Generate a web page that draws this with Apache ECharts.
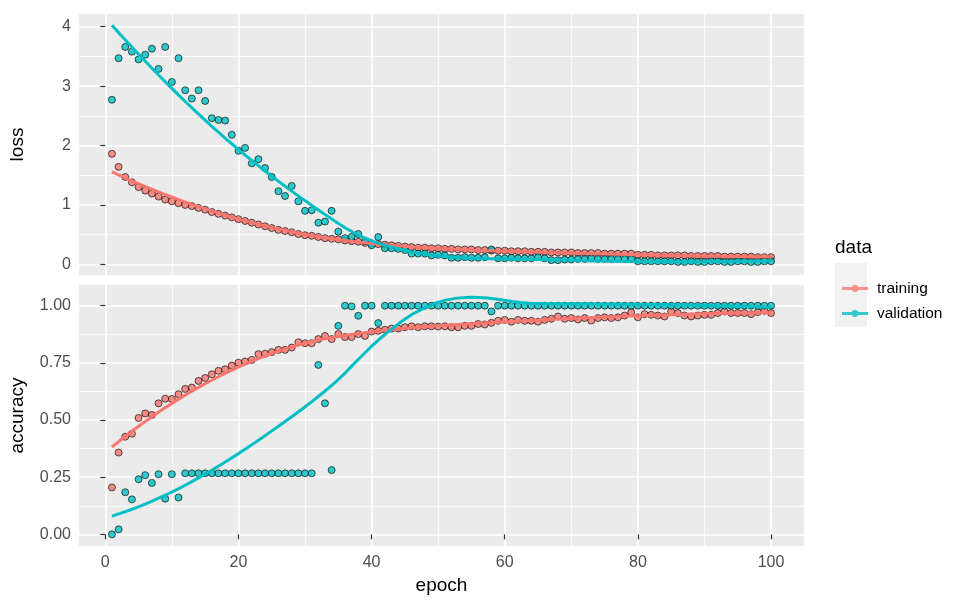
<!DOCTYPE html>
<html>
<head>
<meta charset="utf-8">
<script src="https://cdn.jsdelivr.net/npm/echarts@6/dist/echarts.min.js"></script>
<style>
  html, body { margin: 0; padding: 0; background: #fff; }
  #chart { width: 957px; height: 611px; }
</style>
</head>
<body>
<div id="chart"></div>
<script>
// epochs 1..100
const epochs = [
  1, 2, 3, 4, 5, 6, 7, 8, 9, 10, 11, 12, 13, 14, 15, 16, 17, 18, 19, 20,
  21, 22, 23, 24, 25, 26, 27, 28, 29, 30, 31, 32, 33, 34, 35, 36, 37, 38, 39, 40,
  41, 42, 43, 44, 45, 46, 47, 48, 49, 50, 51, 52, 53, 54, 55, 56, 57, 58, 59, 60,
  61, 62, 63, 64, 65, 66, 67, 68, 69, 70, 71, 72, 73, 74, 75, 76, 77, 78, 79, 80,
  81, 82, 83, 84, 85, 86, 87, 88, 89, 90, 91, 92, 93, 94, 95, 96, 97, 98, 99, 100
]

const lossTraining = [
  1.86, 1.64, 1.47, 1.38, 1.30, 1.24, 1.19, 1.14, 1.09, 1.06,
  1.03, 1.00, 0.98, 0.95, 0.92, 0.88, 0.85, 0.82, 0.79, 0.76,
  0.73, 0.70, 0.67, 0.64, 0.61, 0.58, 0.56, 0.54, 0.51, 0.49,
  0.48, 0.46, 0.44, 0.43, 0.42, 0.40, 0.39, 0.38, 0.36, 0.35,
  0.34, 0.33, 0.32, 0.31, 0.30, 0.29, 0.28, 0.28, 0.27, 0.27,
  0.26, 0.26, 0.25, 0.25, 0.25, 0.24, 0.24, 0.23, 0.23, 0.23,
  0.22, 0.22, 0.22, 0.21, 0.21, 0.21, 0.20, 0.20, 0.20, 0.20,
  0.19, 0.19, 0.19, 0.19, 0.18, 0.18, 0.18, 0.18, 0.18, 0.16,
  0.16, 0.16, 0.15, 0.15, 0.15, 0.15, 0.15, 0.14, 0.14, 0.14,
  0.14, 0.14, 0.13, 0.13, 0.13, 0.13, 0.13, 0.12, 0.12, 0.12
]
const lossValidation = [
  2.77, 3.47, 3.66, 3.58, 3.45, 3.53, 3.63, 3.29, 3.66, 3.07,
  3.47, 2.93, 2.79, 2.93, 2.75, 2.46, 2.43, 2.42, 2.18, 1.91,
  1.96, 1.70, 1.77, 1.62, 1.47, 1.23, 1.15, 1.32, 1.06, 0.90,
  0.91, 0.70, 0.72, 0.90, 0.55, 0.44, 0.46, 0.51, 0.39, 0.32,
  0.46, 0.27, 0.27, 0.26, 0.24, 0.18, 0.18, 0.18, 0.15, 0.16,
  0.15, 0.11, 0.11, 0.12, 0.11, 0.11, 0.12, 0.25, 0.10, 0.10,
  0.11, 0.10, 0.10, 0.10, 0.12, 0.10, 0.07, 0.07, 0.08, 0.08,
  0.09, 0.09, 0.10, 0.09, 0.09, 0.09, 0.09, 0.09, 0.09, 0.05,
  0.05, 0.05, 0.05, 0.05, 0.05, 0.04, 0.04, 0.05, 0.04, 0.04,
  0.05, 0.05, 0.04, 0.04, 0.05, 0.05, 0.04, 0.04, 0.05, 0.05
]
const accTraining = [
  0.205, 0.358, 0.427, 0.440, 0.509, 0.529, 0.522, 0.573, 0.593, 0.592,
  0.613, 0.636, 0.642, 0.671, 0.684, 0.700, 0.715, 0.722, 0.738, 0.751,
  0.756, 0.763, 0.788, 0.790, 0.797, 0.807, 0.807, 0.817, 0.840, 0.836,
  0.836, 0.854, 0.868, 0.854, 0.876, 0.863, 0.863, 0.876, 0.868, 0.887,
  0.890, 0.895, 0.900, 0.900, 0.906, 0.910, 0.906, 0.910, 0.910, 0.909,
  0.910, 0.906, 0.906, 0.912, 0.912, 0.920, 0.918, 0.925, 0.934, 0.938,
  0.930, 0.938, 0.934, 0.934, 0.930, 0.938, 0.943, 0.953, 0.943, 0.946,
  0.940, 0.946, 0.935, 0.946, 0.949, 0.946, 0.949, 0.957, 0.972, 0.949,
  0.963, 0.960, 0.957, 0.953, 0.975, 0.968, 0.957, 0.953, 0.957, 0.960,
  0.960, 0.968, 0.975, 0.968, 0.968, 0.968, 0.963, 0.972, 0.978, 0.968
]
const accValidation = [
  0.000, 0.022, 0.184, 0.153, 0.241, 0.259, 0.225, 0.263, 0.156, 0.263,
  0.161, 0.267, 0.267, 0.267, 0.267, 0.267, 0.267, 0.267, 0.267, 0.267,
  0.267, 0.267, 0.267, 0.267, 0.267, 0.267, 0.267, 0.267, 0.267, 0.267,
  0.267, 0.741, 0.573, 0.281, 0.912, 1.000, 0.997, 0.956, 1.000, 1.000,
  0.924, 1.000, 1.000, 1.000, 1.000, 1.000, 1.000, 1.000, 1.000, 1.000,
  1.000, 1.000, 1.000, 1.000, 1.000, 1.000, 1.000, 0.975, 1.000, 1.000,
  1.000, 1.000, 1.000, 1.000, 1.000, 1.000, 1.000, 1.000, 1.000, 1.000,
  1.000, 1.000, 1.000, 1.000, 1.000, 1.000, 1.000, 1.000, 1.000, 1.000,
  1.000, 1.000, 1.000, 1.000, 1.000, 1.000, 1.000, 1.000, 1.000, 1.000,
  1.000, 1.000, 1.000, 1.000, 1.000, 1.000, 1.000, 1.000, 1.000, 1.000
]

const xTicks = [0, 20, 40, 60, 80, 100]
const xMinor = [10, 30, 50, 70, 90]
const lossTicks = [0, 1, 2, 3, 4]
const lossMinor = [0.5, 1.5, 2.5, 3.5]
const accTicks = [0, 0.25, 0.5, 0.75, 1]
const accMinor = [0.125, 0.375, 0.625, 0.875]

const colTrain = '#F8766D'
const colVal = '#00BFC4'
const font = 'Liberation Sans, Arial, sans-serif'

// loess like ggplot geom_smooth (span 0.75, degree 2, tricube weights)
function loess(xs, ys, span, nOut) {
  const n = xs.length
  const q = Math.floor(n * span)
  const lo = Math.min(...xs), hi = Math.max(...xs)
  const out = []
  for (let k = 0; k < nOut; k++) {
    const x0 = lo + (hi - lo) * k / (nOut - 1)
    const d = xs.map((x) => Math.abs(x - x0))
    const h = d.slice().sort((a, b) => a - b)[q - 1] * 1.0000001
    const s = [0, 0, 0, 0, 0]
    const t = [0, 0, 0]
    for (let i = 0; i < n; i++) {
      const u = d[i] / h
      if (u >= 1) continue
      const w = Math.pow(1 - u * u * u, 3)
      const dx = xs[i] - x0
      let p = w
      for (let j = 0; j < 5; j++) { s[j] += p; p *= dx }
      t[0] += w * ys[i]; t[1] += w * dx * ys[i]; t[2] += w * dx * dx * ys[i]
    }
    const det3 = (m) =>
      m[0][0] * (m[1][1] * m[2][2] - m[1][2] * m[2][1]) -
      m[0][1] * (m[1][0] * m[2][2] - m[1][2] * m[2][0]) +
      m[0][2] * (m[1][0] * m[2][1] - m[1][1] * m[2][0])
    const A = [[s[0], s[1], s[2]], [s[1], s[2], s[3]], [s[2], s[3], s[4]]]
    const A0 = [[t[0], s[1], s[2]], [t[1], s[2], s[3]], [t[2], s[3], s[4]]]
    out.push([x0, det3(A0) / det3(A)])
  }
  return out
}

const pairs = (ys) => epochs.map((e, i) => [e, ys[i]])

const myChart = echarts.init(document.getElementById('chart'))

const gridLine = (w) => ({ show: true, lineStyle: { color: '#ffffff', width: w } })
const tickLabel = { color: '#4D4D4D', fontSize: 16, fontFamily: font }

function xAxisFor(gridIndex, major, withLabels) {
  return {
    type: 'value', gridIndex: gridIndex, min: -3.95, max: 104.95,
    axisLine: { show: false },
    axisTick: { show: withLabels, customValues: major ? xTicks : xMinor, length: 5, lineStyle: { color: '#333333', width: 1.2 } },
    axisLabel: { show: withLabels, customValues: major ? xTicks : xMinor, margin: 9, ...tickLabel },
    splitLine: gridLine(major ? 1.6 : 0.8),
    name: withLabels ? 'epoch' : '',
    nameLocation: 'middle', nameGap: 30,
    nameTextStyle: { color: '#000', fontSize: 19, fontFamily: font }
  }
}

function yAxisFor(gridIndex, lo, hi, ticks, minor, major, title, fmt) {
  const vals = major ? ticks : minor
  return {
    type: 'value', gridIndex: gridIndex, min: lo, max: hi,
    axisLine: { show: false },
    axisTick: { show: major, customValues: vals, length: 5, lineStyle: { color: '#333333', width: 1.2 } },
    axisLabel: { show: major, customValues: vals, margin: 8, formatter: fmt, ...tickLabel },
    splitLine: gridLine(major ? 1.6 : 0.8),
    name: major ? title : '',
    nameLocation: 'middle', nameGap: 52,
    nameTextStyle: { color: '#000', fontSize: 19, fontFamily: font }
  }
}

const pointStyle = (c) => ({ color: c, borderColor: '#000', borderWidth: 0.8 })

function points(name, ys, c, g) {
  return {
    name: name, type: 'scatter', xAxisIndex: g * 2, yAxisIndex: g * 2,
    data: pairs(ys), symbolSize: 7, itemStyle: pointStyle(c), z: 2
  }
}
function smooth(name, ys, c, g) {
  return {
    name: name, type: 'line', xAxisIndex: g * 2, yAxisIndex: g * 2,
    data: loess(epochs, ys, 0.75, 80), showSymbol: false, smooth: false,
    lineStyle: { color: c, width: 3 }, itemStyle: { color: c }, z: 3
  }
}

// key: line with a dot, drawn in one direction so the dot stays filled
const keyIcon = 'path://M0,1.8h26v2.8h-26z M9.6,3.2a3.4,3.4 0 1,1 6.8,0a3.4,3.4 0 1,1 -6.8,0z'

myChart.setOption({
  backgroundColor: '#ffffff',
  animation: false,
  grid: [
    { left: 75, top: 14, width: 729, height: 261, show: true, backgroundColor: '#EBEBEB', borderWidth: 0 },
    { left: 75, top: 285, width: 729, height: 261, show: true, backgroundColor: '#EBEBEB', borderWidth: 0 }
  ],
  xAxis: [
    xAxisFor(0, true, false), xAxisFor(0, false, false),
    xAxisFor(1, true, true), xAxisFor(1, false, false)
  ],
  yAxis: [
    yAxisFor(0, -0.18, 4.214, lossTicks, lossMinor, true, 'loss', (v) => String(v)),
    yAxisFor(0, -0.18, 4.214, lossTicks, lossMinor, false, '', null),
    yAxisFor(1, -0.051, 1.0906, accTicks, accMinor, true, 'accuracy', (v) => v.toFixed(2)),
    yAxisFor(1, -0.051, 1.0906, accTicks, accMinor, false, '', null)
  ],
  legend: {
    orient: 'vertical', left: 837, top: 275, itemWidth: 26, itemHeight: 6.8, itemGap: 8,
    selectedMode: false,
    textStyle: { color: '#000', fontSize: 15.5, fontFamily: font, padding: [0, 0, 0, 4], lineHeight: 17 },
    data: [
      { name: 'training', icon: keyIcon, itemStyle: { color: colTrain, borderWidth: 0 } },
      { name: 'validation', icon: keyIcon, itemStyle: { color: colVal, borderWidth: 0 } }
    ]
  },
  graphic: [
    { type: 'rect', left: 835, top: 263, z: -1, shape: { width: 32, height: 64 }, style: { fill: '#F2F2F2' } },
    { type: 'text', left: 835, top: 238, style: { text: 'data', fill: '#000', fontSize: 19, fontFamily: font } }
  ],
  series: [
    points('training', lossTraining, colTrain, 0),
    points('validation', lossValidation, colVal, 0),
    points('training', accTraining, colTrain, 1),
    points('validation', accValidation, colVal, 1),
    smooth('training', lossTraining, colTrain, 0),
    smooth('validation', lossValidation, colVal, 0),
    smooth('training', accTraining, colTrain, 1),
    smooth('validation', accValidation, colVal, 1)
  ]
})
</script>
</body>
</html>
